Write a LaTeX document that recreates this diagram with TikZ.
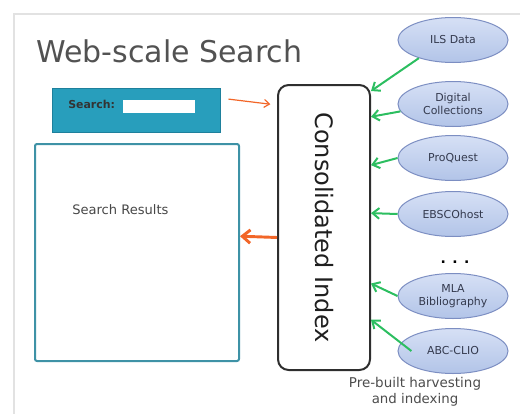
\documentclass[tikz,border=0pt]{standalone}
\usepackage{fontspec}
\setmainfont{DejaVu Sans}
\usetikzlibrary{shapes.geometric,arrows.meta,calc}

\definecolor{slidegrey}{RGB}{226,226,226}
\definecolor{titlegrey}{RGB}{82,82,82}
\definecolor{tealfill}{RGB}{40,158,188}
\definecolor{tealdark}{RGB}{30,128,156}
\definecolor{tealline}{RGB}{62,146,166}
\definecolor{srctop}{RGB}{214,224,245}
\definecolor{srcbot}{RGB}{178,196,232}
\definecolor{srcline}{RGB}{124,142,194}
\definecolor{srctext}{RGB}{52,58,78}
\definecolor{feedgreen}{RGB}{44,190,96}
\definecolor{outorange}{RGB}{242,102,40}

\begin{document}
\begin{tikzpicture}[x=0.75pt,y=0.75pt,yscale=-1,xscale=1,
    source/.style={ellipse, draw=srcline, line width=0.75pt, top color=srctop, bottom color=srcbot,
        minimum width=82.5pt, minimum height=33.75pt, inner sep=0pt, align=center, text=srctext,
        font=\fontsize{8.2}{9.6}\selectfont},
    feed/.style={draw=feedgreen, line width=1.5pt, -{Straight Barb[length=5pt,width=8pt]}},
    result/.style={draw=outorange, -{Straight Barb[length=6pt,width=10pt]}}
]
            \useasboundingbox (0,0) rectangle (520,414);

            % Slide frame
            \draw [slidegrey, line width=2pt]  (14,414) -- (14,14) -- (520,14);

            % Title
            \draw (36,62) node (title) [anchor=base west][inner sep=0pt] [text=titlegrey] {\fontsize{22.5}{27}\selectfont Web-scale Search};

            % Search box
            \draw (136,110) node (search) [draw=tealdark, fill=tealfill, line width=0.75pt, minimum width=126pt, minimum height=33pt, inner sep=0pt] {};
            \draw (68,104) node (searchlabel) [anchor=west][inner sep=0pt] [text=black!80] {\fontsize{8.2}{10}\selectfont\bfseries Search:};
            \draw (159,106.5) node (field) [fill=white, minimum width=54pt, minimum height=9.75pt, inner sep=0pt] {};

            % Results box
            \draw (137,252.5) node (results) [draw=tealline, line width=1.5pt, rounded corners=1.5pt, minimum width=153pt, minimum height=162.75pt, inner sep=0pt] {};
            \draw (72,210) node (resultslabel) [anchor=west][inner sep=0pt] [text=black!72] {\fontsize{9.8}{12}\selectfont Search Results};

            % Consolidated index
            \draw (324,227.5) node (ci) [draw=black!82, line width=1.5pt, rounded corners=8pt, minimum width=69pt, minimum height=213.75pt, inner sep=0pt] {};
            \draw (ci.center) node (cilabel) [rotate=-90][inner sep=0pt] [text=black!88] {\fontsize{18}{22}\selectfont Consolidated Index};

            % Sources
            \draw (453,40) node (ils) [source] {ILS Data};
            \draw (453,104) node (digital) [source] {Digital\\Collections};
            \draw (453,158) node (proquest) [source] {ProQuest};
            \draw (453,214) node (ebsco) [source] {EBSCOhost};
            \draw (455,262) node (more) [inner sep=0pt] {\fontsize{10.5}{12}\selectfont\bfseries . . .};
            \draw (453,296) node (mla) [source] {MLA\\Bibliography};
            \draw (453,351) node (abc) [source] {ABC-CLIO};
            \draw (415,392) node (harvest) [inner sep=0pt] [align=center] [text=black!70] {\fontsize{10.1}{11.4}\selectfont Pre-built harvesting\\and indexing};

            % Harvesting arrows
            \draw [feed] (ils.208) -- (ci.71);
            \draw [feed] (digital.188) -- (ci.67);
            \draw [feed] (proquest.west) -- (ci.53);
            \draw [feed] (ebsco.west) -- (ci.17);
            \draw [feed] (mla.west) -- (ci.-50);
            \draw [feed] ($(abc.west)!0.25!(abc.center)$) -- (ci.-63);

            % Query and results
            \draw [result, line width=0.9pt, -{Straight Barb[length=4pt,width=6pt]}, shorten <=6pt, shorten >=5pt] (search.8) -- (ci.111);
            \draw [result, line width=2.2pt] (ci.192) -- (results.9);

\end{tikzpicture}
\end{document}
